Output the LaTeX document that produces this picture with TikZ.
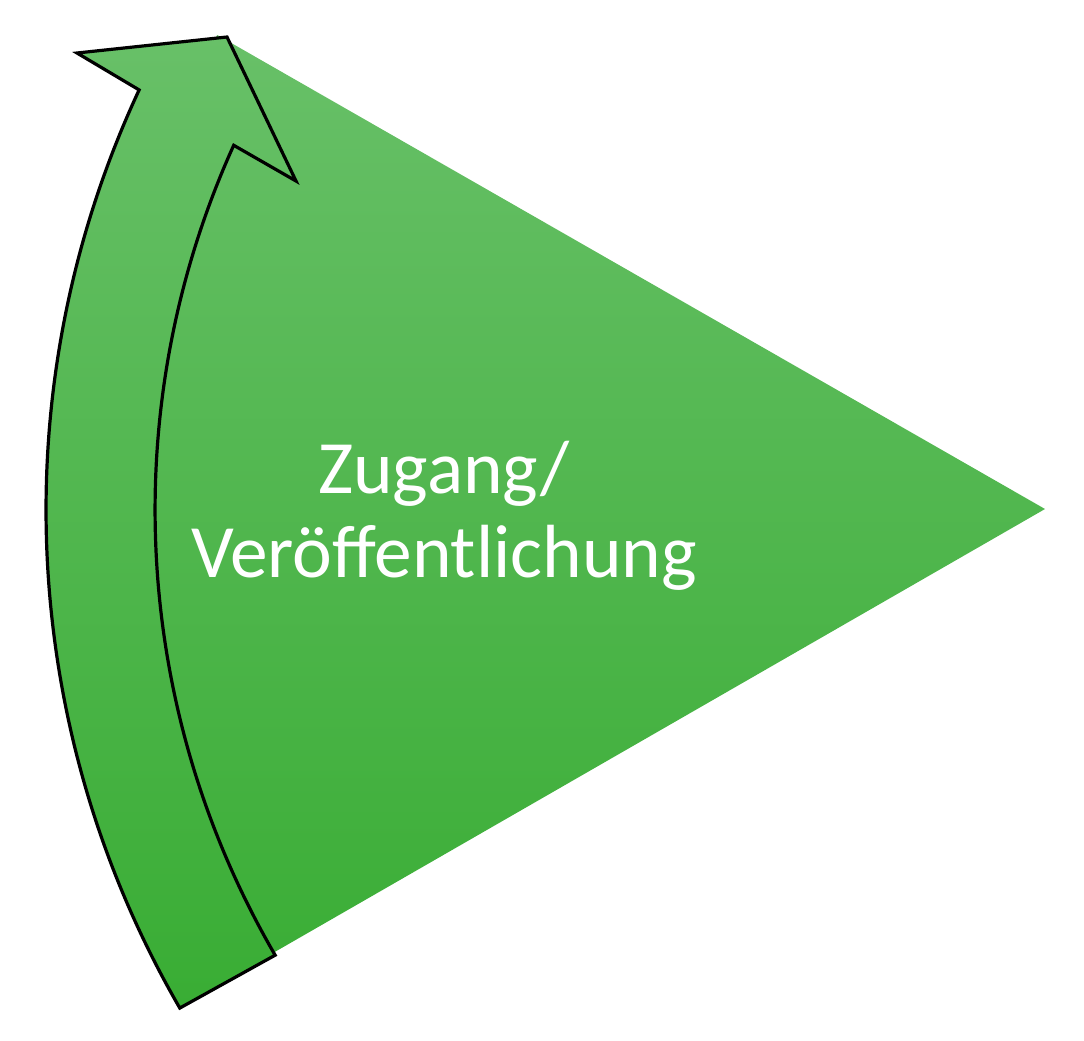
\documentclass[tikz,border=0pt]{standalone}
\usepackage{fontspec}
\setmainfont{Carlito}
\usetikzlibrary{calc}
\definecolor{gtop}{RGB}{104,192,104}
\definecolor{gbot}{RGB}{57,173,52}
\begin{document}
\begin{tikzpicture}[x=0.75pt,y=0.75pt,
  txt/.style={text=white, inner sep=0pt, font=\fontsize{56.5pt}{63pt}\selectfont},
  outline/.style={draw=black, line width=2.4pt, line join=miter}]
\useasboundingbox (0,0) rectangle (1084,-1040);
\coordinate (C) at (1040,-510);
\coordinate (T2) at (1045,-509);
\coordinate (T3) at ($(C)+(210:950)$);
\coordinate (ob) at ($(C)+(210.07:994)$);
\coordinate (h1) at (77,-53);
\coordinate (h2) at (227,-37);
\coordinate (h3) at (296,-181);
\coordinate (it) at ($(C)+(155.66:885)$);
\def\arrowpath{(ob) arc[start angle=210.07,end angle=155,radius=994] -- (h1) -- (h2) -- (h3) -- (it) arc[start angle=155.66,end angle=210.2,radius=885] -- cycle}
\shade[top color=gtop, bottom color=gbot] (T2) -- (T3) arc[start angle=210,end angle=150,radius=950] -- cycle \arrowpath;
\path[outline] \arrowpath;
\node[txt, anchor=base] (l1) at (444,-493) {Zugang/};
\node[txt, anchor=base] (l2) at (444,-577) {Veröffentlichung};
\end{tikzpicture}
\end{document}
